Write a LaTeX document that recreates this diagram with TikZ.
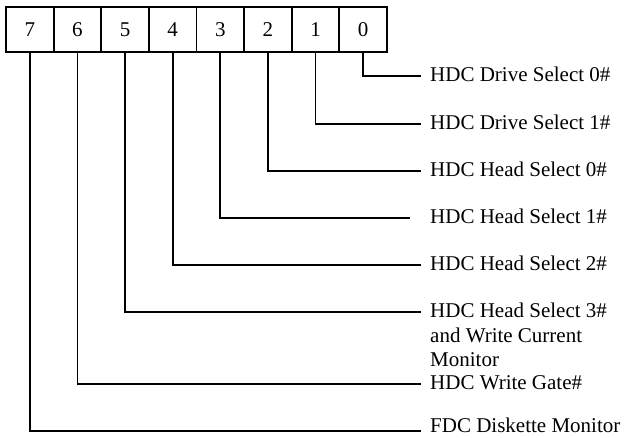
\documentclass[tikz,border=0pt]{standalone}
\usepackage{fontspec}
\setmainfont{Liberation Serif}
\begin{document}
\begin{tikzpicture}[x=1pt,y=-1pt,
  bitbox/.style={draw,line width=1.8pt,minimum width=47.6pt,minimum height=45pt,inner sep=0pt,
    font=\fontsize{21}{24}\selectfont},
  conn/.style={line width=1.8pt},
  lab/.style={anchor=base west,inner sep=0pt,font=\fontsize{21}{24.5}\selectfont}]
\useasboundingbox (0,0) rectangle (627,438);
% bit boxes
\foreach \b [count=\i from 0] in {7,6,5,4,3,2,1,0}{
  \node[bitbox] (b\b) at ({6+47.625*(\i+0.5)},29.5) {\b};
}
% connector ends
\coordinate (e0) at (421,76);
\coordinate (e1) at (421,124);
\coordinate (e2) at (421,171);
\coordinate (e3) at (410,218);
\coordinate (e4) at (421,265);
\coordinate (e5) at (421,312);
\coordinate (e6) at (421,384);
\coordinate (e7) at (421,431);
% labels
\node[lab] (l0) at (430,82) {HDC Drive Select 0\#};
\node[lab] (l1) at (430,130) {HDC Drive Select 1\#};
\node[lab] (l2) at (430,177) {HDC Head Select 0\#};
\node[lab] (l3) at (430,224) {HDC Head Select 1\#};
\node[lab] (l4) at (430,271) {HDC Head Select 2\#};
\node[lab] (l5) at (430,318) {\begin{tabular}[t]{@{}l@{}}HDC Head Select 3\#\\ and Write Current\\ Monitor\end{tabular}};
\node[lab] (l6) at (430,390) {HDC Write Gate\#};
\node[lab] (l7) at (430,433) {FDC Diskette Monitor};
% connectors
\foreach \b in {0,...,7}{
  \draw[conn] (b\b.south) |- (e\b);
}
\end{tikzpicture}
\end{document}
